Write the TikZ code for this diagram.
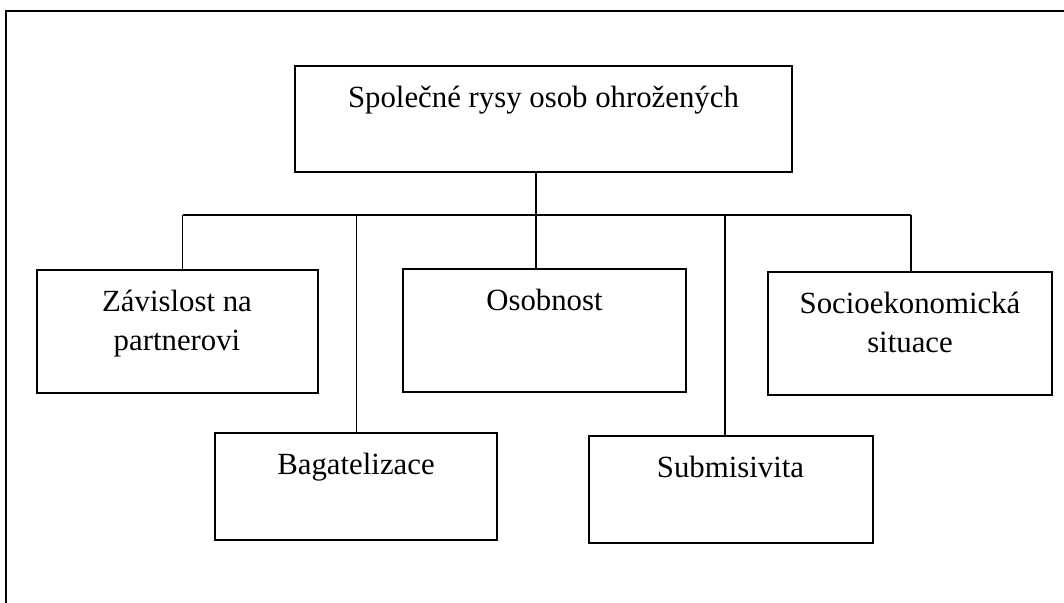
\documentclass[tikz,border=0pt]{standalone}
\usepackage{fontspec}
\setmainfont{Liberation Serif}
\usetikzlibrary{positioning}
\tikzset{
  frame/.style={draw=black,line width=1.3pt},
  box/.style={rectangle,draw=black,line width=1pt,inner sep=0pt},
  boxtext/.style={inner sep=0pt,align=center,font=\fontsize{15.4}{19.5}\selectfont},
  link/.style={draw=black,line width=0.8pt},
}
\begin{document}
\begin{tikzpicture}[x=0.5pt,y=0.5pt]
\useasboundingbox (0,0) rectangle (1064,602);
% ramecek
\draw[frame] (6,-10) -- (6,591) -- (1075,591);
% boxy
\node[box,minimum width=248.5pt,minimum height=53pt] (spol) at (543.5,483) {};
\node[box,minimum width=140.5pt,minimum height=61.5pt] (zav) at (177,271) {};
\node[box,minimum width=141.5pt,minimum height=61.5pt] (osob) at (544.5,271.5) {};
\node[box,minimum width=142pt,minimum height=61.5pt] (soc) at (910,269) {};
\node[box,minimum width=141pt,minimum height=53.5pt] (bag) at (356,115.5) {};
\node[box,minimum width=142pt,minimum height=53.5pt] (sub) at (730.5,113) {};
% texty
\node[boxtext,below=10.5pt of spol.north] (spolt) {Společné rysy osob ohrožených};
\node[boxtext,below=10.5pt of zav.north] (zavt) {Závislost na\\partnerovi};
\node[boxtext,below=10.5pt of osob.north] (osobt) {Osobnost};
\node[boxtext,below=10.5pt of soc.north] (soct) {Socioekonomická\\situace};
\node[boxtext,below=10.5pt of bag.north] (bagt) {Bagatelizace};
\node[boxtext,below=10.5pt of sub.north] (subt) {Submisivita};
% spojnice
\coordinate (bar) at (536,387);
\coordinate (b1) at (182.5,387);
\coordinate (b2) at (356.5,387);
\coordinate (b4) at (725,387);
\coordinate (b5) at (911,387);
\draw[link] (b1) -- (b5);
\draw[link] (spol.south -| bar) -- (bar |- osob.north);
\draw[link] (b1) -- (b1 |- zav.north);
\draw[link] (b2) -- (b2 |- bag.north);
\draw[link] (b4) -- (b4 |- sub.north);
\draw[link] (b5) -- (b5 |- soc.north);
\end{tikzpicture}
\end{document}
